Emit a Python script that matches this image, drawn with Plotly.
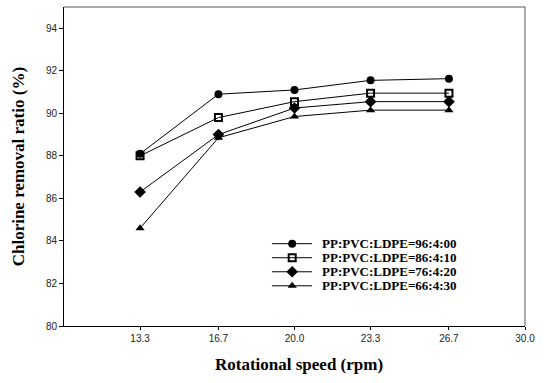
import plotly.graph_objects as go

speeds = [13.3, 16.7, 20.0, 23.3, 26.7]
tick_vals = [13.3, 16.7, 20.0, 23.3, 26.7, 30.0]
tick_text = ["13.3", "16.7", "20.0", "23.3", "26.7", "30.0"]
y_ticks = [80, 82, 84, 86, 88, 90, 92, 94]

names = ["PP:PVC:LDPE=96:4:00", "PP:PVC:LDPE=86:4:10",
         "PP:PVC:LDPE=76:4:20", "PP:PVC:LDPE=66:4:30"]
s_96 = [88.1, 90.9, 91.1, 91.55, 91.63]
s_86 = [88.0, 89.8, 90.55, 90.95, 90.95]
s_76 = [86.3, 89.0, 90.25, 90.55, 90.55]
s_66 = [84.6, 88.85, 89.85, 90.15, 90.15]
series = [s_96, s_86, s_76, s_66]

symbols = ["circle", "square-open", "diamond", "triangle-up"]
sizes = [8, 7, 9, 8]

fig = go.Figure()
for name, vals, sym, sz in zip(names, series, symbols, sizes):
    fig.add_trace(go.Scatter(
        x=speeds, y=vals, mode="lines+markers", name=name,
        line=dict(color="black", width=1),
        marker=dict(symbol=sym, size=sz, color="black",
                    line=dict(color="black", width=2 if sym == "square-open" else 0)),
        showlegend=False))

# manual legend (compact rows like the original)
leg_x0, leg_x1, leg_xm = 0.451, 0.538, 0.495
leg_top, leg_step = 0.258, 0.044
for i, (name, sym, sz) in enumerate(zip(names, symbols, sizes)):
    yy = leg_top - i * leg_step
    fig.add_trace(go.Scatter(
        x=[leg_x0, leg_xm, leg_x1], y=[yy, yy, yy], mode="lines",
        line=dict(color="black", width=1), xaxis="x2", yaxis="y2",
        showlegend=False, hoverinfo="skip"))
    fig.add_trace(go.Scatter(
        x=[leg_xm], y=[yy], mode="markers", xaxis="x2", yaxis="y2",
        marker=dict(symbol=sym, size=sz, color="black",
                    line=dict(color="black", width=2 if sym == "square-open" else 0)),
        showlegend=False, hoverinfo="skip"))
    fig.add_annotation(x=0.555, y=yy, xref="x2", yref="y2", text=name,
                       showarrow=False, xanchor="left", yanchor="middle",
                       font=dict(family="Liberation Serif", size=13, color="black", weight="bold"))

fig.update_layout(
    width=546, height=383,
    margin=dict(l=64, r=21, t=7, b=57),
    paper_bgcolor="white", plot_bgcolor="white",
    font=dict(family="Liberation Sans", size=10, color="#222"),
    xaxis=dict(range=[10, 30], tickvals=tick_vals, ticktext=tick_text,
               showline=True, linecolor="black", linewidth=1, mirror=False,
               ticks="outside", ticklen=3, tickcolor="black",
               showgrid=False, zeroline=False,
               tickfont=dict(family="Liberation Sans", size=10, color="#222")),
    yaxis=dict(range=[80, 95], tickvals=y_ticks,
               showline=True, linecolor="black", linewidth=1, mirror=False,
               ticks="outside", ticklen=4, tickcolor="black",
               showgrid=False, zeroline=False,
               tickfont=dict(family="Liberation Sans", size=10, color="#222")),
    xaxis2=dict(range=[0, 1], overlaying="x", visible=False, fixedrange=True),
    yaxis2=dict(range=[0, 1], overlaying="y", visible=False, fixedrange=True),
    shapes=[
        dict(type="line", xref="paper", yref="paper", x0=0, x1=1, y0=1, y1=1,
             line=dict(color="#555", width=1)),
        dict(type="line", xref="paper", yref="paper", x0=1, x1=1, y0=0, y1=1,
             line=dict(color="#555", width=1)),
    ],
)

fig.add_annotation(text="Rotational speed (rpm)", xref="paper", yref="paper",
                   x=0.51, y=-0.122, xanchor="center", yanchor="middle", showarrow=False,
                   font=dict(family="Liberation Serif", size=17, color="black", weight="bold"))
fig.add_annotation(text="Chlorine removal ratio (%)", xref="paper", yref="paper",
                   x=-0.098, y=0.5, xanchor="center", yanchor="middle", showarrow=False,
                   textangle=-90,
                   font=dict(family="Liberation Serif", size=17, color="black", weight="bold"))

fig.write_html("out.html")
